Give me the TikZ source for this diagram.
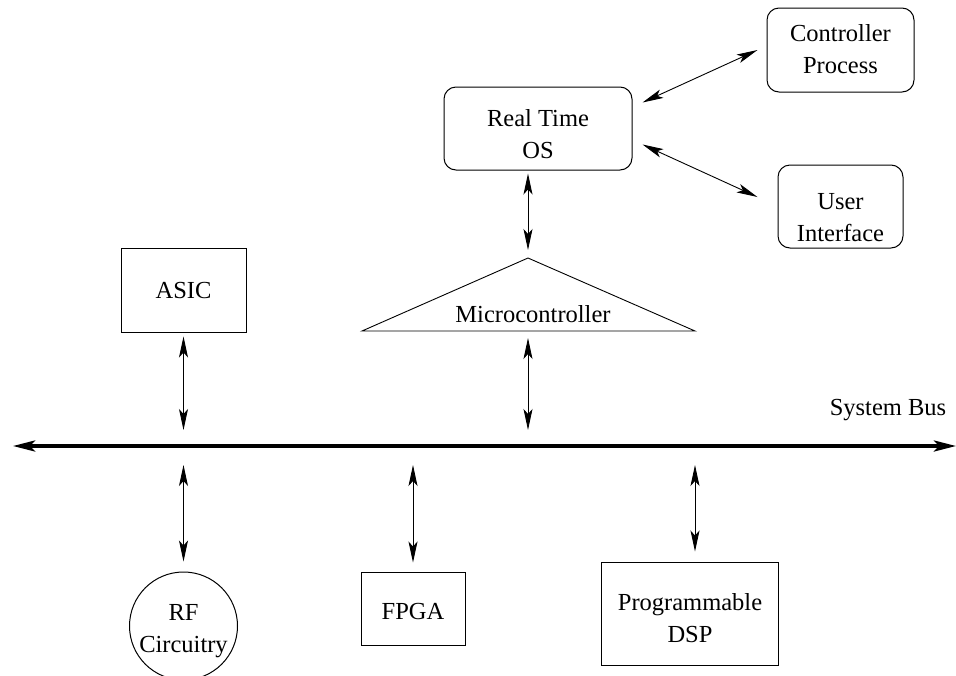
\documentclass[tikz,border=0pt]{standalone}
\usepackage{fontspec}
\setmainfont{Liberation Serif}
\usetikzlibrary{arrows.meta,calc}
\begin{document}
\begin{tikzpicture}[x=1pt,y=-1pt,
  every node/.style={font=\fontsize{24.5}{32}\selectfont, align=center, inner sep=0pt},
  sqbox/.style={draw, line width=1pt},
  rbox/.style={draw, line width=1pt, rounded corners=12pt},
  ringbox/.style={draw, circle, line width=1pt},
  link/.style={line width=0.9pt,
    {Stealth[length=21pt,width=9pt,inset=5pt]}-{Stealth[length=21pt,width=9pt,inset=5pt]}},
  busline/.style={line width=3.5pt,
    {Stealth[length=22pt,width=11pt,inset=5pt]}-{Stealth[length=22pt,width=11pt,inset=5pt]}}]
\useasboundingbox (0,0) rectangle (956,675);

% upper blocks
\node[sqbox, minimum width=125, minimum height=84] (asic) at (183.5,290) {};
\node (asictext) at ($(asic.center)+(0,1)$) {ASIC};
\node[rbox, minimum width=188, minimum height=83] (rtos) at (538,128.5) {};
\node (rtostext) at ($(rtos.center)+(0,6)$) {Real Time\\OS};
\node[rbox, minimum width=147, minimum height=84] (ctrl) at (840.5,50) {};
\node (ctrltext) at ($(ctrl.center)+(0,-1)$) {Controller\\Process};
\node[rbox, minimum width=125, minimum height=83] (ui) at (840.5,206.5) {};
\node (uitext) at ($(ui.center)+(0,11)$) {User\\Interface};

% microcontroller triangle
\coordinate (mtop) at (528,258);
\coordinate (mleft) at (362,331);
\coordinate (mright) at (695,331);
\coordinate (mbase) at (528,331);
\draw[line width=0.9pt] (mleft) -- (mtop) -- (mright) -- cycle;
\node[anchor=base] (micro) at (533,322) {Microcontroller};

% system bus
\coordinate (busL) at (13,446);
\coordinate (busR) at (956,446);
\draw[busline] (busL) -- (busR);
\node[anchor=base] (buslabel) at (888,415) {System Bus};

% lower blocks
\node[ringbox, minimum size=108] (rf) at (183.5,626) {};
\node (rftext) at ($(rf.center)+(0,5)$) {RF\\Circuitry};
\node[sqbox, minimum width=104, minimum height=73] (fpga) at (413,608.5) {};
\node (fpgatext) at ($(fpga.center)+(0,3)$) {FPGA};
\node[sqbox, minimum width=177, minimum height=103] (dsp) at (690,613.5) {};
\node (dsptext) at ($(dsp.center)+(0,5)$) {Programmable\\DSP};
\coordinate (dspin) at ($(dsp.north)+(5,0)$);

% connections
\draw[link, shorten <=4pt, shorten >=16pt] (asic.south) -- (asic.south |- busL);
\draw[link, shorten <=3pt, shorten >=8pt] (rtos.south -| mtop) -- (mtop);
\draw[link, shorten <=7pt, shorten >=16pt] (mbase) -- (mbase |- busL);
\draw[link, shorten <=19pt, shorten >=10pt] (busL -| rf.north) -- (rf.north);
\draw[link, shorten <=19pt, shorten >=9pt] (busL -| fpga.north) -- (fpga.north);
\draw[link, shorten <=19pt, shorten >=10pt] (busL -| dspin) -- (dspin);
\draw[link] ($(rtos.north east)+(10,16)$) -- ($(ctrl.west)+(-9,0)$);
\draw[link] ($(rtos.south east)+(10,-26)$) -- ($(ui.west)+(-20,-9.5)$);
\end{tikzpicture}
\end{document}
